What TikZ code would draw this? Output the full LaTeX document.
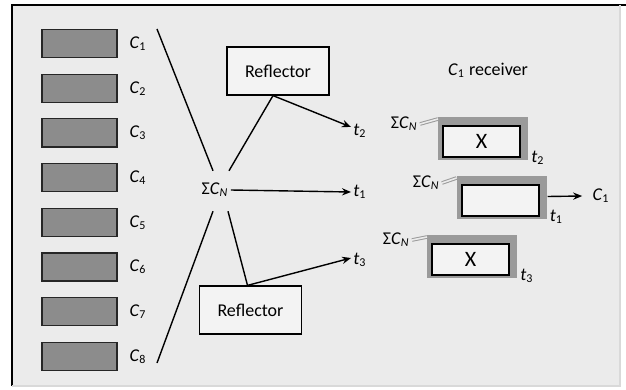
\documentclass[tikz,border=0pt]{standalone}
\usepackage{fontspec}
\setmainfont{Carlito}
\usepackage{tikz}
\usetikzlibrary{arrows.meta, positioning, backgrounds, calc}
\definecolor{pagebg}{HTML}{EBEBEB}
\definecolor{chanfill}{HTML}{8C8C8C}
\definecolor{rxshade}{HTML}{9A9A9A}
\definecolor{boxfill}{HTML}{F3F3F3}
\newcommand{\sym}[2]{\textit{#1}\textsubscript{#2}}
\newcommand{\sumC}{Σ\sym{C}{\textit{N}}}

\begin{document}
\begin{tikzpicture}[
  x=0.5pt, y=-0.5pt,
  font=\fontsize{9}{10.8}\selectfont,
  chan/.style={draw=black!85, line width=0.6pt, fill=chanfill,
               minimum width=37.5pt, minimum height=14pt, inner sep=0pt},
  lbl/.style={inner sep=1pt},
  refl/.style={draw, line width=0.6pt, fill=boxfill, minimum width=51pt,
               minimum height=24pt},
  rxbox/.style={draw, line width=1pt, fill=boxfill, minimum width=38.5pt,
                minimum height=15.5pt, font=\fontsize{11}{12}\selectfont},
  wire/.style={line width=0.7pt},
  arrow/.style={-{Stealth[length=4.5pt, width=3.6pt]}, line width=0.7pt},
  feed/.style={draw=rxshade, double=pagebg, double distance=0.8pt, line width=0.5pt}
]
\useasboundingbox (0,0) rectangle (626,390);

%% Channel bank
\foreach \i in {1,...,8} {
  \node[chan] (c\i) at (79.5, {43.5+44.7*(\i-1)}) {};
  \node[lbl] (lc\i) at (138, {43.5+44.7*(\i-1)}) {\sym{C}{\i}};
}

%% Combined signal
\node[lbl] (sum) at (215,190) {\sumC};
\coordinate (f1) at (157,29);
\coordinate (f8) at (157,363);
\draw[wire] (f1) -- ([shift={(-2,-10)}]sum.north);
\draw[wire] (f8) -- ([shift={(-2,12)}]sum.south);

%% Reflectors
\node[refl] (refT) at (278,71) {Reflector};
\node[refl] (refB) at (250.5,310) {Reflector};

%% Paths
\node[lbl] (t2) at (360,131) {\sym{t}{2}};
\node[lbl] (t1) at (360,192) {\sym{t}{1}};
\node[lbl] (t3) at (360,260) {\sym{t}{3}};
\draw[wire] ([shift={(14,-10)}]sum.north) -- ([xshift=-2.5pt]refT.south);
\draw[arrow] ([xshift=-2.5pt]refT.south) -- ([yshift=2pt]t2.west);
\draw[arrow] (sum.east) -- (t1.west);
\draw[wire] ([shift={(13,12)}]sum.south) -- ([xshift=-1.5pt]refB.north);
\draw[arrow] ([xshift=-1.5pt]refB.north) -- ([yshift=1pt]t3.west);

%% C1 receiver
\node[lbl] (rxlabel) at (488,70) {\sym{C}{1} receiver};
\node[rxbox] (r2) at (481.5,141.5) {X};
\node[rxbox] (r1) at (500,200.5) {};
\node[rxbox] (r3) at (470.5,259.5) {X};
\node[lbl, anchor=east] (s2) at (420,124) {\sumC};
\node[lbl, anchor=east] (s1) at (442,183) {\sumC};
\node[lbl, anchor=east] (s3) at (412,240) {\sumC};
\node[lbl, anchor=west] (u2) at ([xshift=4pt]r2.south east) {\sym{t}{2}};
\node[lbl, anchor=west] (u1) at ([xshift=4pt]r1.south east) {\sym{t}{1}};
\node[lbl, anchor=west] (u3) at ([xshift=4pt]r3.south east) {\sym{t}{3}};
\node[lbl] (out) at (601,196) {\sym{C}{1}};
\draw[arrow] ([shift={(8,-4)}]r1.east) -- ([xshift=-4pt]out.west);

\begin{scope}[on background layer]
  %% Page and shaded receiver frames
  \fill[pagebg] (12,5) rectangle (620,386);
  \draw[line width=1pt] (12,386) -- (12,5) -- (626,5);
  \draw[black!15, line width=0.6pt] (620,5) -- (620,386) -- (12,386);
  \foreach \r/\s in {r2/s2, r1/s1, r3/s3} {
    \fill[rxshade] ([shift={(-4,-8)}]\r.north west) rectangle ([shift={(7,2)}]\r.south east);
    \draw[feed] (\s.east) -- ([shift={(-4,-6)}]\r.north west);
  }
\end{scope}
\end{tikzpicture}
\end{document}
